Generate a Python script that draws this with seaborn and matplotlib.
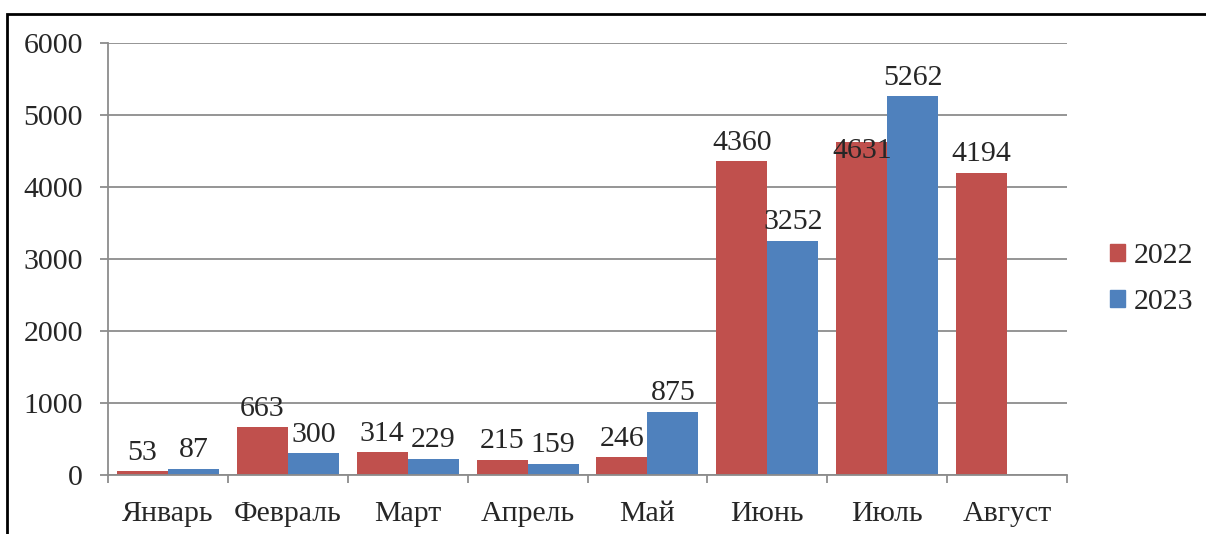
import numpy as np
import pandas as pd
import matplotlib
matplotlib.use('Agg')
import matplotlib.pyplot as plt
import matplotlib.patches as mpatches
import seaborn as sns

months = ["Январь", "Февраль", "Март", "Апрель", "Май", "Июнь", "Июль", "Август"]
vals_2022 = [53, 663, 314, 215, 246, 4360, 4631, 4194]
vals_2023 = [87, 300, 229, 159, 875, 3252, 5262, np.nan]
years = ["2022", "2023"]
colors = {"2022": "#C0504D", "2023": "#4F81BD"}

df = pd.DataFrame({
    "month": months * 2,
    "year": ["2022"] * len(months) + ["2023"] * len(months),
    "value": vals_2022 + vals_2023,
})

sns.set_style("white")
plt.rcParams['font.family'] = ['Liberation Serif', 'DejaVu Serif']
FS = 21.5

fig = plt.figure(figsize=(12.06, 5.34), dpi=100)
ax = fig.add_axes([108 / 1206, 59 / 534, 959 / 1206, 432 / 534])

sns.barplot(data=df, x="month", y="value", hue="year", order=months,
            hue_order=years, palette=colors, width=0.85, saturation=1,
            edgecolor="none", ax=ax, legend=False)

ax.set_xlim(-0.5, len(months) - 0.5)
ax.set_ylim(0, 6000)
ax.set_yticks(np.arange(0, 6001, 1000))
ax.yaxis.grid(True, color="#8c8c8c", linewidth=1.3)
ax.set_axisbelow(True)

# x: boundary ticks (no labels) + centred labels
ax.set_xticks(np.arange(len(months) + 1) - 0.5)
ax.set_xticklabels([])
ax.set_xticks(np.arange(len(months)), minor=True)
ax.set_xticklabels(months, minor=True, fontsize=FS)
ax.tick_params(axis="x", which="major", length=6, width=1.3, color="#8c8c8c", bottom=True)
ax.tick_params(axis="x", which="minor", length=0, pad=19)
ax.tick_params(axis="y", length=6, width=1.3, color="#8c8c8c", left=True, labelsize=FS, pad=12)
ax.set_xlabel("")
ax.set_ylabel("")

for side in ["top", "right"]:
    ax.spines[side].set_visible(False)
for side in ["left", "bottom"]:
    ax.spines[side].set_color("#8c8c8c")
    ax.spines[side].set_linewidth(1.3)

# value labels
for container in ax.containers:
    for bar in container:
        h = bar.get_height()
        if np.isnan(h) or h == 0:
            continue
        dy = -16 if int(h) == 4631 else 4
        ax.annotate(f"{int(h)}", (bar.get_x() + bar.get_width() / 2, h),
                    xytext=(0, dy), textcoords="offset points",
                    ha="center", va="bottom", fontsize=FS)

handles = [mpatches.Patch(color=colors[y], label=y) for y in years]
fig.legend(handles=handles, loc="center left", bbox_to_anchor=(1110 / 1206, 1 - 279 / 534),
           frameon=False, fontsize=FS, handlelength=0.5, handleheight=0.5,
           handletextpad=0.3, labelspacing=0.65, borderpad=0, borderaxespad=0)

# outer frame
fig.patches.append(mpatches.Rectangle((7 / 1206, -0.1), 1.2, 1.1 - 14 / 534,
                                      transform=fig.transFigure, fill=False,
                                      edgecolor="black", linewidth=2))

fig.savefig("out.png", dpi=100)
